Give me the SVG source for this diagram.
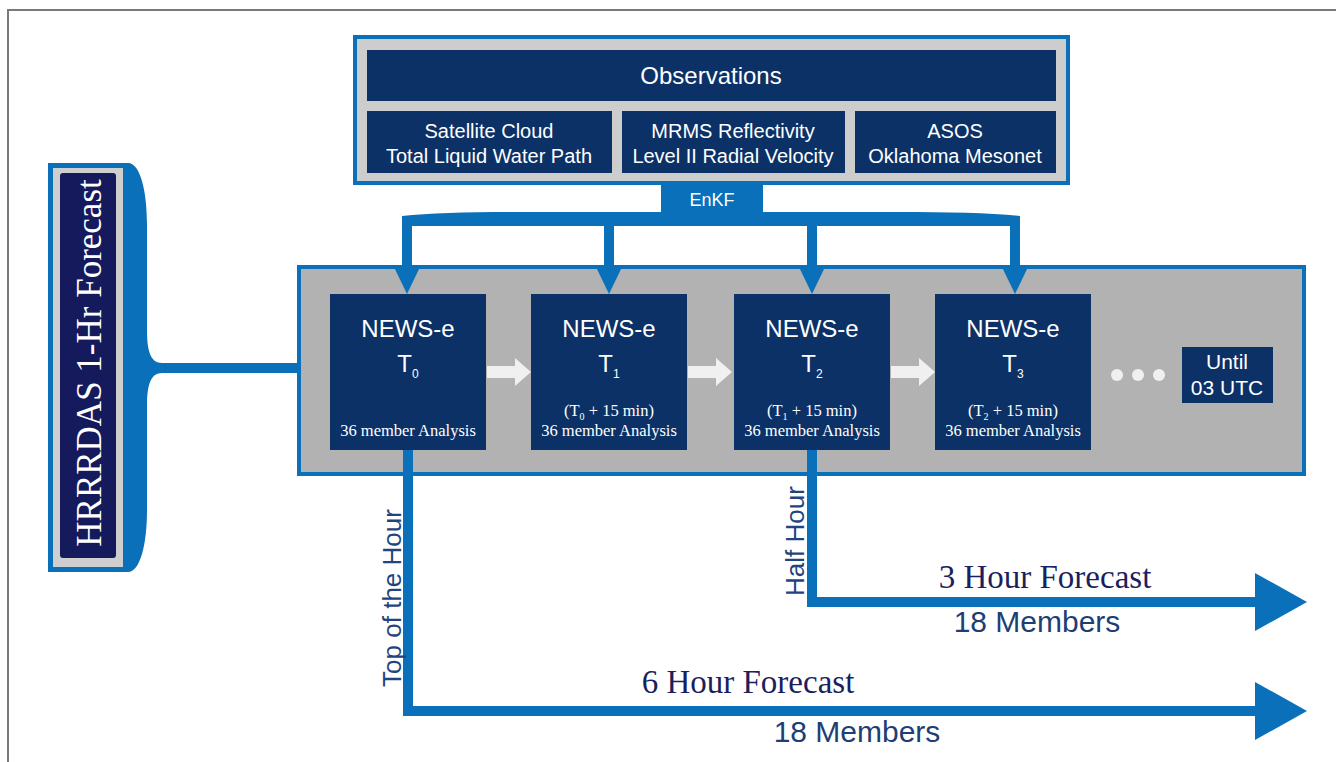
<svg xmlns="http://www.w3.org/2000/svg" width="1336" height="762" viewBox="0 0 1336 762">
<defs>
<style>
.blue{fill:#0a70ba}
.navy{fill:#0b3167}
.wt{fill:#ffffff;font-family:"Liberation Sans",Arial,sans-serif;text-anchor:middle}
.ws{fill:#ffffff;font-family:"Liberation Serif","Times New Roman",serif;text-anchor:middle}
.lbl{fill:#1f4480;font-family:"Liberation Sans",Arial,sans-serif;text-anchor:middle;font-size:26px}
.fc{fill:#1b1f5e;font-family:"Liberation Serif","Times New Roman",serif;text-anchor:middle;font-size:33px}
.mem{fill:#1d3f73;font-family:"Liberation Sans",Arial,sans-serif;text-anchor:middle;font-size:30px}
.line{fill:none;stroke:#0a70ba;stroke-width:10}
</style>
</defs>
<rect x="0" y="0" width="1336" height="762" fill="#ffffff"/>
<path d="M8,762 V10 H1336" fill="none" stroke="#7a7a7a" stroke-width="2"/>

<!-- connectors -->
<g id="connectors">
  <path class="blue" d="M402,226 V216 C430,213 470,212 520,212 H661 V185 H763 V212 H900 C950,212 990,213 1020,216 V226 Z"/>
  <rect class="blue" x="402" y="216" width="10" height="52"/>
  <rect class="blue" x="604" y="216" width="10" height="52"/>
  <rect class="blue" x="807" y="216" width="10" height="52"/>
  <rect class="blue" x="1010" y="216" width="10" height="52"/>
  <rect class="blue" x="150" y="363" width="149" height="10"/>
</g>

<!-- HRRRDAS -->
<g id="hrrrdas">
  <path class="blue" d="M48,163 H128 C140,163 147,190 147,225 V330 C147,352 151,363 162,363 V373 C151,373 147,384 147,406 V510 C147,545 140,572 128,572 H48 Z"/>
  <rect x="53" y="168" width="70" height="399" fill="#cfcfcf"/>
  <rect x="60" y="173" width="56" height="385" rx="3" fill="#141a5c"/>
  <text class="ws" font-size="35" transform="translate(101,363) rotate(-90)">HRRRDAS 1-Hr Forecast</text>
</g>

<!-- Observations -->
<g id="observations">
  <rect x="355" y="37" width="713" height="146" fill="#cdcdcd" stroke="#0a70ba" stroke-width="4"/>
  <rect class="navy" x="367" y="50" width="689" height="51"/>
  <text class="wt" x="711" y="84" font-size="24">Observations</text>
  <rect class="navy" x="367" y="111" width="245" height="62"/>
  <text class="wt" x="489" y="138" font-size="20">Satellite Cloud</text>
  <text class="wt" x="489" y="163" font-size="20">Total Liquid Water Path</text>
  <rect class="navy" x="622" y="111" width="223" height="62"/>
  <text class="wt" x="733" y="138" font-size="20">MRMS Reflectivity</text>
  <text class="wt" x="733" y="163" font-size="20">Level II Radial Velocity</text>
  <rect class="navy" x="855" y="111" width="201" height="62"/>
  <text class="wt" x="955" y="138" font-size="20">ASOS</text>
  <text class="wt" x="955" y="163" font-size="20">Oklahoma Mesonet</text>
</g>

<g id="enkf">
  <text class="wt" x="712" y="206" font-size="18" fill="#e8eef6">EnKF</text>
</g>

<!-- Gray container -->
<g id="container">
  <rect x="299" y="267" width="1005" height="207" fill="#b2b2b2" stroke="#0a70ba" stroke-width="4"/>
  <polygon class="blue" points="393,265 421,265 407,294"/>
  <polygon class="blue" points="595,265 623,265 609,294"/>
  <polygon class="blue" points="798,265 826,265 812,294"/>
  <polygon class="blue" points="1001,265 1029,265 1015,294"/>
  <path fill="#f0f0f0" d="M487,366 H515 V358 L531,372 L515,386 V378 H487 Z"/>
  <path fill="#f0f0f0" d="M688,366 H716 V358 L732,372 L716,386 V378 H688 Z"/>
  <path fill="#f0f0f0" d="M891,366 H919 V358 L935,372 L919,386 V378 H891 Z"/>
  <circle cx="1117" cy="375" r="6" fill="#f0f0f0"/>
  <circle cx="1138" cy="375" r="6" fill="#f0f0f0"/>
  <circle cx="1159" cy="375" r="6" fill="#f0f0f0"/>
</g>

<g id="forecast-connectors">
  <path class="line" d="M408,450 V711 H1258"/>
  <polygon class="blue" points="1255,682 1307,711 1255,740"/>
  <path class="line" d="M812,450 V602 H1258"/>
  <polygon class="blue" points="1255,573 1307,602 1255,631"/>
</g>

<g id="news-t0">
  <rect class="navy" x="330" y="294" width="156" height="156"/>
  <text class="wt" x="408" y="337" font-size="24">NEWS-e</text>
  <text class="wt" x="408" y="372" font-size="24">T<tspan font-size="12" dy="6">0</tspan></text>
  <text class="ws" x="408" y="436" font-size="16.5">36 member Analysis</text>
</g>
<g id="news-t1">
  <rect class="navy" x="531" y="294" width="156" height="156"/>
  <text class="wt" x="609" y="337" font-size="24">NEWS-e</text>
  <text class="wt" x="609" y="372" font-size="24">T<tspan font-size="12" dy="6">1</tspan></text>
  <text class="ws" x="609" y="416" font-size="16.5">(T<tspan font-size="10" dy="4">0</tspan><tspan dy="-4"> + 15 min)</tspan></text>
  <text class="ws" x="609" y="436" font-size="16.5">36 member Analysis</text>
</g>
<g id="news-t2">
  <rect class="navy" x="734" y="294" width="156" height="156"/>
  <text class="wt" x="812" y="337" font-size="24">NEWS-e</text>
  <text class="wt" x="812" y="372" font-size="24">T<tspan font-size="12" dy="6">2</tspan></text>
  <text class="ws" x="812" y="416" font-size="16.5">(T<tspan font-size="10" dy="4">1</tspan><tspan dy="-4"> + 15 min)</tspan></text>
  <text class="ws" x="812" y="436" font-size="16.5">36 member Analysis</text>
</g>
<g id="news-t3">
  <rect class="navy" x="935" y="294" width="156" height="156"/>
  <text class="wt" x="1013" y="337" font-size="24">NEWS-e</text>
  <text class="wt" x="1013" y="372" font-size="24">T<tspan font-size="12" dy="6">3</tspan></text>
  <text class="ws" x="1013" y="416" font-size="16.5">(T<tspan font-size="10" dy="4">2</tspan><tspan dy="-4"> + 15 min)</tspan></text>
  <text class="ws" x="1013" y="436" font-size="16.5">36 member Analysis</text>
</g>
<g id="until">
  <rect class="navy" x="1182" y="347" width="91" height="56"/>
  <text class="wt" x="1227" y="369" font-size="21">Until</text>
  <text class="wt" x="1227" y="395" font-size="21">03 UTC</text>
</g>

<g id="labels">
  <text class="lbl" transform="translate(401,598) rotate(-90)">Top of the Hour</text>
  <text class="lbl" transform="translate(804,541) rotate(-90)">Half Hour</text>
  <text class="fc" x="748" y="693">6 Hour Forecast</text>
  <text class="mem" x="857" y="742">18 Members</text>
  <text class="fc" x="1045" y="588">3 Hour Forecast</text>
  <text class="mem" x="1037" y="632">18 Members</text>
</g>
</svg>
